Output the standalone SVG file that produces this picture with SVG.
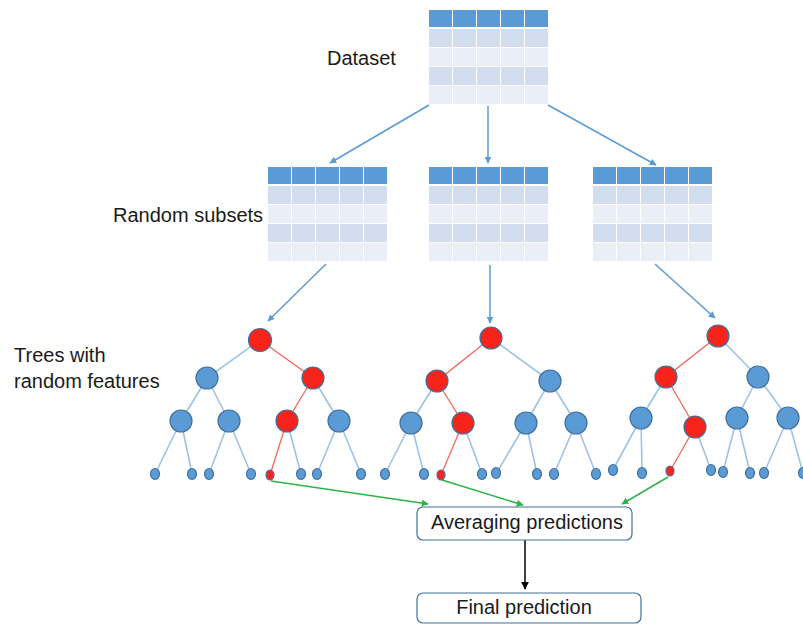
<svg xmlns="http://www.w3.org/2000/svg" width="803" height="626" viewBox="0 0 803 626">
<defs>
<style>
.lbl{font-family:"Liberation Sans",Arial,sans-serif;font-size:20px;fill:#1a1a1a}
.hd{fill:#5B9BD5}
.r1{fill:#D2DEEF}
.r2{fill:#EAEFF7}
.be{stroke:#9DC3E6;stroke-width:1.6;fill:none}
.re{stroke:#F4685B;stroke-width:1.3;fill:none}
.bn{fill:#5B9BD5;stroke:#41719C;stroke-width:1.2}
.rn{fill:#F8231A;stroke:#41719C;stroke-width:1.2}
.ba{stroke:#5B9BD5;stroke-width:1.5;fill:none;marker-end:url(#mb)}
.ga{stroke:#2DB34A;stroke-width:1.5;fill:none;marker-end:url(#mg)}
.box{fill:#fff;stroke:#41719C;stroke-width:1.2}
</style>
<marker id="mb" viewBox="0 0 10 10" refX="9" refY="5" markerWidth="7" markerHeight="7" orient="auto" markerUnits="userSpaceOnUse"><path d="M0,0 L10,5 L0,10 z" fill="#5B9BD5"/></marker>
<marker id="mg" viewBox="0 0 10 10" refX="9" refY="5" markerWidth="7" markerHeight="7" orient="auto" markerUnits="userSpaceOnUse"><path d="M0,0 L10,5 L0,10 z" fill="#2DB34A"/></marker>
<marker id="mk" viewBox="0 0 10 10" refX="9" refY="5" markerWidth="8" markerHeight="8" orient="auto" markerUnits="userSpaceOnUse"><path d="M0,0 L10,5 L0,10 z" fill="#000"/></marker>
<g id="tbl">
<rect class="hd" x="0" y="0" width="23" height="17"/><rect class="hd" x="24" y="0" width="23" height="17"/><rect class="hd" x="48" y="0" width="23" height="17"/><rect class="hd" x="72" y="0" width="23" height="17"/><rect class="hd" x="96" y="0" width="23" height="17"/>
<rect class="r1" x="0" y="19" width="23" height="18"/><rect class="r1" x="24" y="19" width="23" height="18"/><rect class="r1" x="48" y="19" width="23" height="18"/><rect class="r1" x="72" y="19" width="23" height="18"/><rect class="r1" x="96" y="19" width="23" height="18"/>
<rect class="r2" x="0" y="38" width="23" height="18"/><rect class="r2" x="24" y="38" width="23" height="18"/><rect class="r2" x="48" y="38" width="23" height="18"/><rect class="r2" x="72" y="38" width="23" height="18"/><rect class="r2" x="96" y="38" width="23" height="18"/>
<rect class="r1" x="0" y="57" width="23" height="18"/><rect class="r1" x="24" y="57" width="23" height="18"/><rect class="r1" x="48" y="57" width="23" height="18"/><rect class="r1" x="72" y="57" width="23" height="18"/><rect class="r1" x="96" y="57" width="23" height="18"/>
<rect class="r2" x="0" y="76" width="23" height="18"/><rect class="r2" x="24" y="76" width="23" height="18"/><rect class="r2" x="48" y="76" width="23" height="18"/><rect class="r2" x="72" y="76" width="23" height="18"/><rect class="r2" x="96" y="76" width="23" height="18"/>
</g>
</defs>
<rect width="803" height="626" fill="#fff"/>

<g id="labels">
<text class="lbl" x="327" y="65">Dataset</text>
<text class="lbl" x="113" y="222">Random subsets</text>
<text class="lbl" x="14" y="362">Trees with</text>
<text class="lbl" x="14" y="388">random features</text>
</g>

<g id="dataset"><use href="#tbl" x="429" y="10"/></g>
<g id="subset1"><use href="#tbl" x="268" y="167"/></g>
<g id="subset2"><use href="#tbl" x="429" y="167"/></g>
<g id="subset3"><use href="#tbl" x="593" y="167"/></g>

<g id="connectors">
<line class="ba" x1="429" y1="105" x2="330" y2="163"/>
<line class="ba" x1="488" y1="106" x2="488" y2="163"/>
<line class="ba" x1="548" y1="105" x2="656" y2="165"/>
<line class="ba" x1="326" y1="264" x2="268" y2="321"/>
<line class="ba" x1="490" y1="265" x2="490" y2="323"/>
<line class="ba" x1="655" y1="264" x2="715" y2="318"/>
<!-- tree 1 edges -->
<path class="be" d="M260,340 L207,378 M207,378 L181,421 M207,378 L229,421 M181,421 L155,474 M181,421 L192,474 M229,421 L209,474 M229,421 L251,474 M287,421 L301,474 M313,378 L339,421 M339,421 L317,474 M339,421 L361,474"/>
<path class="re" d="M260,340 L313,378 L287,421 L270,475"/>
<!-- tree 2 edges -->
<path class="be" d="M491,338 L550,381 M437,381 L411,423 M411,423 L385,474 M411,423 L424,474 M463,423 L482,474 M550,381 L526,423 M550,381 L576,423 M526,423 L496,474 M526,423 L537,474 M576,423 L554,474 M576,423 L596,474"/>
<path class="re" d="M491,338 L437,381 L463,423 L441,475"/>
<!-- tree 3 edges -->
<path class="be" d="M718,336 L758,377 M666,377 L641,418 M641,418 L613,470 M641,418 L642,473 M695,427 L711,470 M758,377 L737,418 M758,377 L788,418 M737,418 L723,472 M737,418 L750,473 M788,418 L764,473 M788,418 L803,473"/>
<path class="re" d="M718,336 L666,377 L695,427 L670,471"/>
<!-- green -->
<line class="ga" x1="271" y1="481" x2="428" y2="504"/>
<line class="ga" x1="442" y1="480" x2="523" y2="505"/>
<line class="ga" x1="668" y1="477" x2="622" y2="504"/>
<line x1="525" y1="540" x2="525" y2="589" stroke="#000" stroke-width="1.5" marker-end="url(#mk)"/>
</g>

<g id="tree1">
<circle class="rn" cx="260" cy="340" r="11.5"/>
<circle class="bn" cx="207" cy="378" r="11"/>
<circle class="rn" cx="313" cy="378" r="11"/>
<circle class="bn" cx="181" cy="421" r="11"/>
<circle class="bn" cx="229" cy="421" r="11"/>
<circle class="rn" cx="287" cy="421" r="11"/>
<circle class="bn" cx="339" cy="421" r="11"/>
<ellipse class="bn" cx="155" cy="474" rx="4.5" ry="5.5"/>
<ellipse class="bn" cx="192" cy="474" rx="4.5" ry="5.5"/>
<ellipse class="bn" cx="209" cy="474" rx="4.5" ry="5.5"/>
<ellipse class="bn" cx="251" cy="474" rx="4.5" ry="5.5"/>
<ellipse class="rn" cx="270" cy="475" rx="4" ry="5"/>
<ellipse class="bn" cx="301" cy="474" rx="4.5" ry="5.5"/>
<ellipse class="bn" cx="317" cy="474" rx="4.5" ry="5.5"/>
<ellipse class="bn" cx="361" cy="474" rx="4.5" ry="5.5"/>
</g>

<g id="tree2">
<circle class="rn" cx="491" cy="338" r="11"/>
<circle class="rn" cx="437" cy="381" r="11"/>
<circle class="bn" cx="550" cy="381" r="11"/>
<circle class="bn" cx="411" cy="423" r="11"/>
<circle class="rn" cx="463" cy="423" r="11"/>
<circle class="bn" cx="526" cy="423" r="11"/>
<circle class="bn" cx="576" cy="423" r="11"/>
<ellipse class="bn" cx="385" cy="474" rx="4.5" ry="5.5"/>
<ellipse class="bn" cx="424" cy="474" rx="4.5" ry="5.5"/>
<ellipse class="rn" cx="441" cy="475" rx="4" ry="5"/>
<ellipse class="bn" cx="482" cy="474" rx="4.5" ry="5.5"/>
<ellipse class="bn" cx="496" cy="473" rx="4.5" ry="5.5"/>
<ellipse class="bn" cx="537" cy="474" rx="4.5" ry="5.5"/>
<ellipse class="bn" cx="554" cy="474" rx="4.5" ry="5.5"/>
<ellipse class="bn" cx="596" cy="474" rx="4.5" ry="5.5"/>
</g>

<g id="tree3">
<circle class="rn" cx="718" cy="336" r="11"/>
<circle class="rn" cx="666" cy="377" r="11"/>
<circle class="bn" cx="758" cy="377" r="11"/>
<circle class="bn" cx="641" cy="418" r="11"/>
<circle class="rn" cx="695" cy="427" r="11"/>
<circle class="bn" cx="737" cy="418" r="11"/>
<circle class="bn" cx="788" cy="418" r="11"/>
<ellipse class="bn" cx="613" cy="470" rx="4.5" ry="5.5"/>
<ellipse class="bn" cx="642" cy="473" rx="4.5" ry="5.5"/>
<ellipse class="rn" cx="670" cy="471" rx="4" ry="5"/>
<ellipse class="bn" cx="711" cy="470" rx="4.5" ry="5.5"/>
<ellipse class="bn" cx="723" cy="472" rx="4.5" ry="5.5"/>
<ellipse class="bn" cx="750" cy="473" rx="4.5" ry="5.5"/>
<ellipse class="bn" cx="764" cy="473" rx="4.5" ry="5.5"/>
<ellipse class="bn" cx="803" cy="473" rx="4.5" ry="5.5"/>
</g>

<g id="averaging">
<rect class="box" x="417" y="507" width="215" height="33" rx="6"/>
<text class="lbl" x="527" y="529" text-anchor="middle" font-size="19.5">Averaging predictions</text>
</g>
<g id="final">
<rect class="box" x="417" y="593" width="224" height="30" rx="6"/>
<text class="lbl" x="524" y="614" text-anchor="middle">Final prediction</text>
</g>
</svg>
